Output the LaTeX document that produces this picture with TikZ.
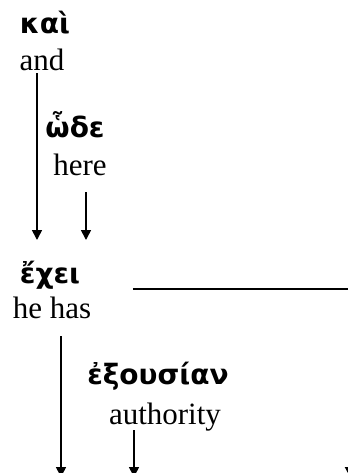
\documentclass[tikz,border=0pt]{standalone}
\usepackage{fontspec}
\setmainfont{Liberation Serif}
\newfontfamily\gkfont{DejaVu Sans}
\usetikzlibrary{arrows.meta, calc}
\tikzset{greek/.style={anchor=base, inner sep=0pt, font=\gkfont\bfseries\fontsize{14}{17}\selectfont},
  gloss/.style={anchor=base, inner sep=0pt, font=\fontsize{15.5}{18.5}\selectfont},
  link/.style={-{Triangle[width=5pt,length=5pt]}, line width=0.8pt}}
\begin{document}
\begin{tikzpicture}[x=0.5pt, y=-0.5pt]
\useasboundingbox (0,0) rectangle (348,473);
\clip (0,0) rectangle (348,473);
% ===== words with their glosses =====
\node[greek] (kai) at (45,33) {καὶ};
\node[gloss] (and) at (42,70) {and};
\node[greek] (hode) at (75,137) {ὧδε};
\node[gloss] (here) at (80,175) {here};
\node[greek] (echei) at (50,283) {ἔχει};
\node[gloss] (has) at (52,318) {he has};
\node[greek] (exousian) at (158,384) {ἐξουσίαν};
\node[gloss] (auth) at (165,424) {authority};
% ===== modifiers into the verb =====
\draw[link] ($(and.base)+(-5,3)$) -- ($(echei.base)+(-13,-43)$);
\draw[link] ($(here.base)+(6,17)$) -- ($(echei.base)+(36,-43)$);
% ===== verb line and lower links (they run past the frame) =====
\coordinate (vbot) at ($(has.base)+(9,159)$);
\coordinate (obot) at ($(auth.base)+(-31,53)$);
\coordinate (rbot) at (350,477);
\draw[link] ($(has.base)+(9,18)$) -- (vbot);
\draw[link] ($(auth.base)+(-31,6)$) -- (obot);
\draw[link, line width=1pt] ($(has.base)+(81,-29)$) -| (rbot);
\end{tikzpicture}
\end{document}
